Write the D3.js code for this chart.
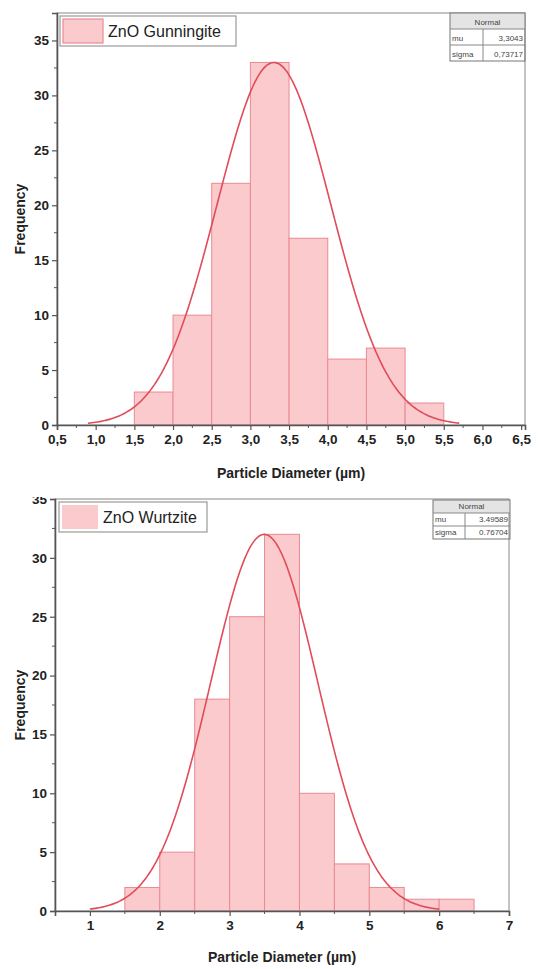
<!DOCTYPE html>
<html><head><meta charset="utf-8">
<script src="https://cdn.jsdelivr.net/npm/d3@7"></script>
<style>body{margin:0;background:#fff}svg{display:block}</style>
</head><body>
<svg id="c" width="538" height="969"></svg>
<script>
// ---- data ----
const binEdgesTop = [1.5,2.0,2.5,3.0,3.5,4.0,4.5,5.0,5.5];
const countsTop = [3,10,22,33,17,6,7,2];
const xTicksTop = [0.5,1.0,1.5,2.0,2.5,3.0,3.5,4.0,4.5,5.0,5.5,6.0,6.5];
const xTickLabelsTop = ["0,5","1,0","1,5","2,0","2,5","3,0","3,5","4,0","4,5","5,0","5,5","6,0","6,5"];
const yTicksTop = [0,5,10,15,20,25,30,35];
const fitTop = {mu:3.3043, sigma:0.73717, peak:33, from:0.9, to:5.7};
const tableTop = [["mu","3,3043"],["sigma","0,73717"]];

const binEdgesBot = [1.5,2.0,2.5,3.0,3.5,4.0,4.5,5.0,5.5,6.0,6.5];
const countsBot = [2,5,18,25,32,10,4,2,1,1];
const xTicksBot = [1,2,3,4,5,6,7];
const xTickLabelsBot = ["1","2","3","4","5","6","7"];
const yTicksBot = [0,5,10,15,20,25,30,35];
const fitBot = {mu:3.49589, sigma:0.76704, peak:32, from:1.0, to:6.0};
const tableBot = [["mu","3.49589"],["sigma","0.76704"]];

const svg = d3.select("#c");
const FILL = "#fbcacd", BSTROKE = "#ea8a92", CURVE = "#e04c5a", AX = "#555";

function panel(o){
  const g = svg.append("g");
  const x = d3.scaleLinear().domain(o.xd).range([o.left,o.right]);
  const y = d3.scaleLinear().domain(o.yd).range([o.bottom,o.top]);
  if(o.clipTop!==undefined){
    const id="clip"+Math.random().toString(36).slice(2);
    svg.append("clipPath").attr("id",id).append("rect").attr("x",0).attr("y",o.clipTop).attr("width",538).attr("height",969);
    g.attr("clip-path",`url(#${id})`);
  }
  // bars
  const bins = o.counts.map((c,i)=>({x0:o.edges[i],x1:o.edges[i+1],c}));
  g.selectAll("rect.bar").data(bins).join("rect").attr("class","bar")
    .attr("x",d=>x(d.x0)).attr("width",d=>x(d.x1)-x(d.x0))
    .attr("y",d=>y(d.c)).attr("height",d=>y(0)-y(d.c))
    .attr("fill",FILL).attr("stroke",BSTROKE).attr("stroke-width",1);
  // fit curve
  const f = o.fit;
  const pts = d3.range(f.from, f.to+1e-9, (f.to-f.from)/200).map(v=>[v, f.peak*Math.exp(-0.5*((v-f.mu)/f.sigma)**2)]);
  g.append("path").datum(pts).attr("fill","none").attr("stroke",CURVE).attr("stroke-width",1.6)
    .attr("d",d3.line().x(d=>x(d[0])).y(d=>y(d[1])).curve(d3.curveBasis));
  // frame
  g.append("rect").attr("x",o.left).attr("y",o.top).attr("width",o.right-o.left).attr("height",o.bottom-o.top)
    .attr("fill","none").attr("stroke","#888").attr("stroke-width",1);
  // axes
  const xa = g.append("g").attr("transform",`translate(0,${o.bottom})`)
    .call(d3.axisBottom(x).tickValues(o.xticks).tickFormat((d,i)=>o.xlabels[i]).tickSize(5).tickPadding(4));
  const xminor = [];
  for(let i=0;i<o.xticks.length-1;i++) xminor.push((o.xticks[i]+o.xticks[i+1])/2);
  xa.selectAll("line.minor").data(xminor).join("line").attr("class","minor")
    .attr("x1",d=>x(d)).attr("x2",d=>x(d)).attr("y1",0).attr("y2",3).attr("stroke",AX);
  const ya = g.append("g").attr("transform",`translate(${o.left},0)`)
    .call(d3.axisLeft(y).tickValues(o.yticks).tickSize(5).tickPadding(3));
  const yminor = o.yticks.slice(0,-1).map(v=>v+2.5);
  ya.selectAll("line.minor").data(yminor).join("line").attr("class","minor")
    .attr("y1",d=>y(d)).attr("y2",d=>y(d)).attr("x1",0).attr("x2",-3).attr("stroke",AX);
  [xa,ya].forEach(a=>{
    a.select(".domain").attr("stroke",AX).attr("stroke-width",1.6);
    a.selectAll(".tick line").attr("stroke",AX).attr("stroke-width",1.2);
    a.selectAll("text").attr("fill","#222").style("font-family","Liberation Sans, Arial, sans-serif")
      .style("font-weight","bold").style("font-size","13.5px");
  });
  // titles
  g.append("text").attr("x",(o.left+o.right)/2).attr("y",o.xtitleY).attr("text-anchor","middle")
    .style("font-family","Liberation Sans, Arial, sans-serif").style("font-weight","bold").style("font-size","14px")
    .attr("fill","#222").text("Particle Diameter (µm)");
  g.append("text").attr("transform",`translate(${o.ytitleX},${(o.top+o.bottom)/2}) rotate(-90)`).attr("text-anchor","middle")
    .style("font-family","Liberation Sans, Arial, sans-serif").style("font-weight","bold").style("font-size","14px")
    .attr("fill","#222").text("Frequency");
  // legend
  const L = o.legend;
  g.append("rect").attr("x",L.x).attr("y",L.y).attr("width",L.w).attr("height",L.h)
    .attr("fill","#fff").attr("stroke","#999").attr("stroke-width",1.2);
  g.append("rect").attr("x",L.x+3).attr("y",L.y+3).attr("width",L.sw).attr("height",L.h-6)
    .attr("fill",FILL).attr("stroke",L.swStroke?BSTROKE:"none").attr("stroke-width",1.2);
  g.append("text").attr("x",L.x+L.sw+8).attr("y",L.y+L.h/2+6)
    .style("font-family","Liberation Sans, Arial, sans-serif").style("font-size","16px").attr("fill","#222").text(L.label);
  // stats table
  const T = o.table;
  const tg = g.append("g").attr("transform",`translate(${T.x},${T.y})`);
  tg.append("rect").attr("width",T.w).attr("height",T.rh).attr("fill","#e4e4e4");
  tg.append("rect").attr("width",T.w).attr("height",T.rh*3).attr("fill","#fff").attr("fill-opacity",0).attr("stroke","#777").attr("stroke-width",1);
  tg.selectAll("line.h").data([1,2]).join("line").attr("x1",0).attr("x2",T.w).attr("y1",d=>d*T.rh).attr("y2",d=>d*T.rh).attr("stroke","#888");
  tg.append("line").attr("x1",T.c).attr("x2",T.c).attr("y1",T.rh).attr("y2",T.rh*3).attr("stroke","#888");
  tg.append("text").attr("x",T.w/2).attr("y",T.rh*0.72).attr("text-anchor","middle")
    .style("font-family","Liberation Sans, Arial, sans-serif").style("font-size","8px").attr("fill","#444").text("Normal");
  tg.selectAll("text.k").data(o.tableRows).join("text").attr("class","k").attr("x",2).attr("y",(d,i)=>(i+1)*T.rh+T.rh*0.72)
    .style("font-family","Liberation Sans, Arial, sans-serif").style("font-size","8px").attr("fill","#444").text(d=>d[0]);
  tg.selectAll("text.v").data(o.tableRows).join("text").attr("class","v").attr("x",T.w-2).attr("y",(d,i)=>(i+1)*T.rh+T.rh*0.72)
    .attr("text-anchor","end")
    .style("font-family","Liberation Sans, Arial, sans-serif").style("font-size","8px").attr("fill","#444").text(d=>d[1]);
}

panel({xd:[0.5,6.55], yd:[0,37.5], left:57, right:525, top:13, bottom:425,
  edges:binEdgesTop, counts:countsTop, fit:fitTop, xticks:xTicksTop, xlabels:xTickLabelsTop, yticks:yTicksTop,
  xtitleY:478, ytitleX:25,
  legend:{x:60,y:16,w:176,h:30,sw:40,swStroke:true,label:"ZnO Gunningite"},
  table:{x:450,y:13,w:75,rh:16,c:33}, tableRows:tableTop});

panel({xd:[0.5,7.0], yd:[0,35], left:55, right:509, top:499, bottom:911,
  edges:binEdgesBot, counts:countsBot, fit:fitBot, xticks:xTicksBot, xlabels:xTickLabelsBot, yticks:yTicksBot,
  xtitleY:962, ytitleX:25, clipTop:497,
  legend:{x:59,y:502,w:148,h:30,sw:36,swStroke:false,label:"ZnO Wurtzite"},
  table:{x:433,y:500,w:77,rh:13,c:32}, tableRows:tableBot});
</script>
</body></html>
